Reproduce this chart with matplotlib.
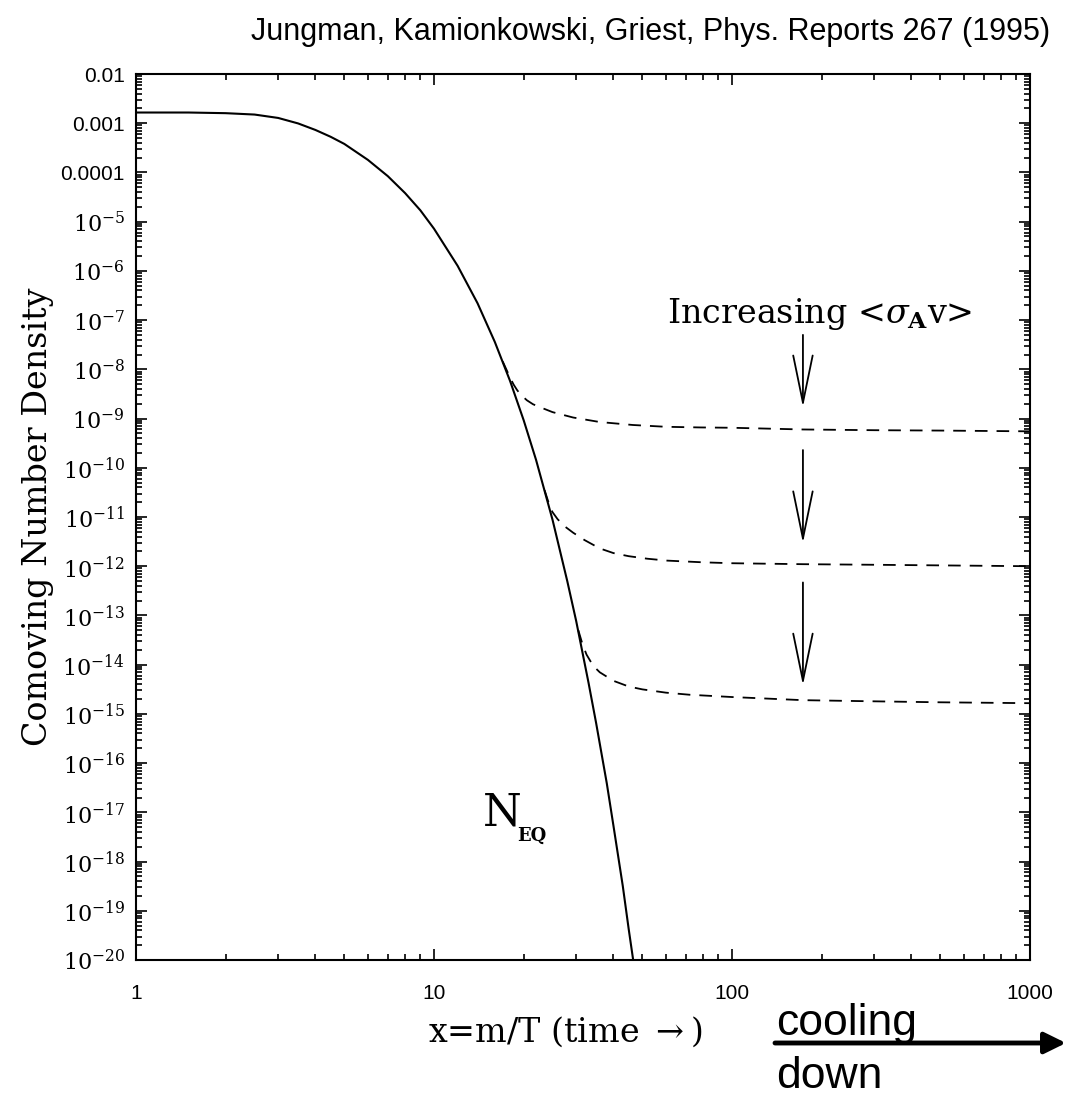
import matplotlib
matplotlib.use("Agg")
import matplotlib.pyplot as plt
from matplotlib.ticker import LogLocator, NullFormatter, FixedLocator

plt.rcParams['mathtext.fontset'] = 'dejavuserif'

# equilibrium curve N_EQ
x_eq = [1, 1.5, 2, 2.5, 3, 3.5, 4, 4.5, 5, 6, 7, 8, 9, 10, 12, 14, 16, 18, 20, 22,
        25, 28, 30, 33, 35, 38, 40, 43, 45, 46.6]
n_eq = [1.65e-3, 1.65e-3, 1.6e-3, 1.5e-3, 1.28e-3, 9.9e-4, 7.3e-4, 5.3e-4, 3.8e-4,
        1.8e-4, 8.4e-5, 3.8e-5, 1.7e-5, 7.2e-6, 1.27e-6, 2.2e-7, 3.6e-8, 5.8e-9,
        9.2e-10, 1.45e-10, 8.7e-12, 5.0e-13, 7.7e-14, 4.3e-15, 6.5e-16, 3.9e-17,
        5.4e-18, 3.2e-19, 4.3e-20, 1.0e-20]

# freeze-out curves, increasing <sigma v> from top to bottom
x_fo1 = [17, 18, 18.5, 19, 19.5, 20.5, 21.5, 22.7, 25, 29.3, 36, 46.5, 60, 78, 100,
         173, 300, 500, 1000]
n_fo1 = [1.45e-8, 6.8e-9, 4.9e-9, 3.8e-9, 3.1e-9, 2.35e-9, 1.95e-9, 1.7e-9, 1.35e-9,
         1.05e-9, 8.5e-10, 7.4e-10, 6.8e-10, 6.6e-10, 6.5e-10, 6.0e-10, 5.8e-10,
         5.7e-10, 5.5e-10]

x_fo2 = [23.5, 24.5, 25, 26, 27.5, 29.3, 32, 36, 40, 45, 52, 60.6, 80, 100, 173, 300,
         500, 1000]
n_fo2 = [3.5e-11, 1.6e-11, 1.25e-11, 9.0e-12, 6.4e-12, 4.8e-12, 3.4e-12, 2.3e-12,
         1.85e-12, 1.6e-12, 1.42e-12, 1.3e-12, 1.2e-12, 1.15e-12, 1.1e-12, 1.07e-12,
         1.04e-12, 1.0e-12]

x_fo3 = [30.5, 31.5, 32.5, 34.2, 36, 40, 45, 50, 60, 72, 100, 173, 300, 500, 1000]
n_fo3 = [5e-14, 2.6e-14, 1.6e-14, 9.5e-15, 7.0e-15, 4.7e-15, 3.6e-15, 3.15e-15,
         2.7e-15, 2.45e-15, 2.2e-15, 1.9e-15, 1.8e-15, 1.72e-15, 1.65e-15]

ytick_vals = [10.0 ** (-k) for k in range(2, 21)]
ytick_labels = ['0.01', '0.001', '0.0001'] + ['$10^{-%d}$' % k for k in range(5, 21)]
xtick_vals = [1, 10, 100, 1000]
xtick_labels = ['1', '10', '100', '1000']

fig = plt.figure(figsize=(10.85, 10.96), dpi=100)
ax = fig.add_axes([136 / 1085, 1 - 960 / 1096, 894 / 1085, 886 / 1096])

ax.plot(x_eq, n_eq, color='black', lw=1.5)
for xs, ys in [(x_fo1, n_fo1), (x_fo2, n_fo2), (x_fo3, n_fo3)]:
    ax.plot(xs, ys, color='black', lw=1.3, dashes=(7, 5))

ax.set_xscale('log')
ax.set_yscale('log')
ax.set_xlim(1, 1000)
ax.set_ylim(1e-20, 1e-2)

ax.yaxis.set_major_locator(FixedLocator(ytick_vals))
ax.yaxis.set_minor_locator(LogLocator(base=10, subs=range(2, 10), numticks=300))
ax.yaxis.set_minor_formatter(NullFormatter())
ax.set_yticklabels(ytick_labels)
ax.xaxis.set_major_locator(FixedLocator(xtick_vals))
ax.xaxis.set_minor_locator(LogLocator(base=10, subs=range(2, 10), numticks=100))
ax.xaxis.set_minor_formatter(NullFormatter())
ax.set_xticklabels(xtick_labels)

ax.tick_params(which='both', direction='in', top=True, right=True, width=1.2)
ax.tick_params(which='major', length=8)
ax.tick_params(which='minor', length=4)
ax.tick_params(axis='x', pad=17)
ax.tick_params(axis='y', pad=8)
for lab in ax.get_xticklabels():
    lab.set_family('Liberation Sans')
    lab.set_fontsize(15)
for i, lab in enumerate(ax.get_yticklabels()):
    if i < 3:
        lab.set_family('Liberation Sans')
        lab.set_fontsize(15)
    else:
        lab.set_fontsize(16)
for s in ax.spines.values():
    s.set_linewidth(1.5)

ax.set_ylabel('Comoving Number Density', family='DejaVu Serif', fontsize=24)
ax.yaxis.set_label_coords(-0.11, 0.5)
ax.yaxis.label.set_va('center')
ax.set_xlabel(r'x=m/T (time $\rightarrow$)', family='DejaVu Serif', fontsize=24)
ax.xaxis.set_label_coords((565 - 136) / 894, -0.081)
ax.xaxis.label.set_va('center')

# arrows and labels inside the plot
arrows = [(10 ** -7.30, 10 ** -8.77), (10 ** -9.64, 10 ** -11.53), (10 ** -12.33, 10 ** -14.42)]
for tail, tip in arrows:
    ax.annotate('', xy=(173, tip), xytext=(173, tail),
                arrowprops=dict(arrowstyle='->,head_length=3.4,head_width=0.7',
                                mutation_scale=10, lw=1.3, color='black',
                                shrinkA=0, shrinkB=0))

ax.text(60.5, 10 ** -7.06, r'Increasing <$\sigma_{\mathbf{A}}$v>', family='DejaVu Serif',
        fontsize=24, va='baseline', ha='left')
ax.text(14.6, 10 ** -17.26, 'N', family='DejaVu Serif', fontsize=32, va='baseline')
ax.text(19.0, 10 ** -17.57, 'EQ', family='DejaVu Serif', fontsize=13, fontweight='bold',
        va='baseline')

# annotations around the frame
fig.text(1050 / 1085, 1 - 40 / 1096, 'Jungman, Kamionkowski, Griest, Phys. Reports 267 (1995)',
         family='Liberation Sans', fontsize=22, ha='right', va='baseline')
fig.text(776 / 1085, 1 - 1035 / 1096, 'cooling', family='Liberation Sans', fontsize=32,
         ha='left', va='baseline')
fig.text(776 / 1085, 1 - 1088 / 1096, 'down', family='Liberation Sans', fontsize=32,
         ha='left', va='baseline')
fig.patches.append(matplotlib.patches.FancyArrowPatch(
    (775 / 1085, 1 - 1043 / 1096), (1066 / 1085, 1 - 1043 / 1096),
    transform=fig.transFigure, arrowstyle='-|>,head_length=0.65,head_width=0.32',
    mutation_scale=20, lw=3.5, color='black', shrinkA=0, shrinkB=0))

fig.savefig('out.png', dpi=100)
